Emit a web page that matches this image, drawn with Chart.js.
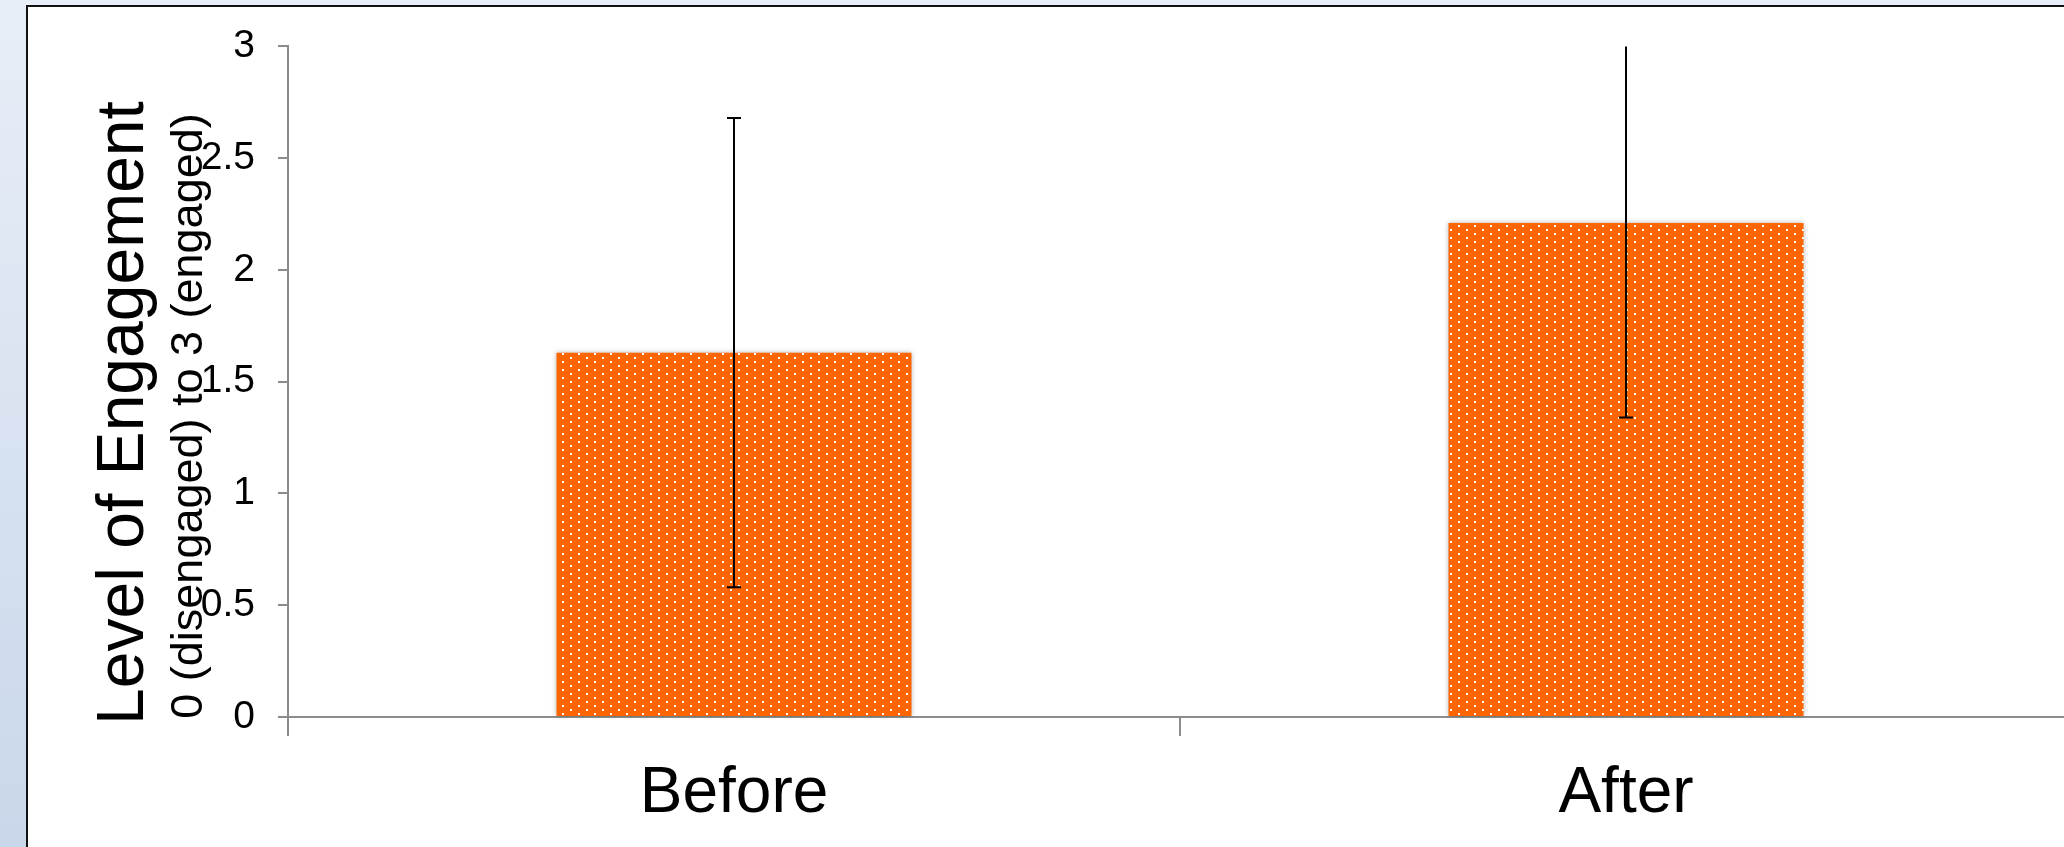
<!DOCTYPE html>
<html>
<head>
<meta charset="utf-8">
<script src="https://cdn.jsdelivr.net/npm/chart.js@4"></script>
<style>
  html, body { margin: 0; padding: 0; width: 2064px; height: 847px; overflow: hidden; }
  body { background: linear-gradient(to bottom, #e8eef7, #c9d7ea); position: relative; }
  #frame { position: absolute; left: 26px; top: 5px; width: 2100px; height: 900px;
           border-left: 2px solid #111; border-top: 2px solid #111; background: #fff; }
  #myChart { position: absolute; left: 0; top: 0; }
</style>
</head>
<body>
<div id="frame"></div>
<canvas id="myChart" width="2076" height="847"></canvas>
<script>
var categories = ['Before', 'After'];
var meanEngagement = [1.63, 2.21];   // bar heights
var errorEngagement = [1.05, 0.87];  // +/- error bar
var yTickLabels = ['0', '0.5', '1', '1.5', '2', '2.5', '3'];
var titleMain = 'Level of Engagement';
var titleSub = '0 (disengaged) to 3 (engaged)';

var fontName = "'Liberation Sans', Arial, sans-serif";

// orange with sparse white dots (Excel 5% pattern)
function dotPattern() {
  var c = document.createElement('canvas');
  c.width = 16; c.height = 8;
  var g = c.getContext('2d');
  g.fillStyle = '#ff6600';
  g.fillRect(0, 0, 16, 8);
  g.fillStyle = '#ffffff';
  g.fillRect(2, 1, 2, 2);
  g.fillRect(10, 5, 2, 2);
  return g.createPattern(c, 'repeat');
}

var barShadow = {
  id: 'barShadow',
  beforeDatasetDraw: function(chart) {
    var ctx = chart.ctx;
    ctx.save();
    ctx.shadowColor = 'rgba(0,0,0,0.3)';
    ctx.shadowBlur = 5;
  },
  afterDatasetDraw: function(chart) {
    chart.ctx.restore();
  }
};

var errorBars = {
  id: 'errorBars',
  afterDatasetsDraw: function(chart) {
    var ctx = chart.ctx, a = chart.chartArea;
    var y = chart.scales.y;
    var meta = chart.getDatasetMeta(0);
    ctx.save();
    ctx.beginPath();
    ctx.rect(a.left, a.top, a.right - a.left, a.bottom - a.top);
    ctx.clip();
    ctx.strokeStyle = '#000';
    ctx.lineWidth = 2;
    meta.data.forEach(function(bar, i) {
      var hi = y.getPixelForValue(meanEngagement[i] + errorEngagement[i]);
      var lo = y.getPixelForValue(meanEngagement[i] - errorEngagement[i]);
      var x = Math.round(bar.x);
      ctx.beginPath();
      ctx.moveTo(x, hi); ctx.lineTo(x, lo);
      ctx.moveTo(x - 7, hi); ctx.lineTo(x + 7, hi);
      ctx.moveTo(x - 7, lo); ctx.lineTo(x + 7, lo);
      ctx.stroke();
    });
    ctx.restore();
  }
};

// two line y title with different sizes
var yTitles = {
  id: 'yTitles',
  afterDraw: function(chart) {
    var ctx = chart.ctx;
    ctx.save();
    ctx.fillStyle = '#000';
    ctx.textAlign = 'center';
    ctx.textBaseline = 'alphabetic';
    ctx.translate(143, 413);
    ctx.rotate(-Math.PI / 2);
    ctx.font = '66px ' + fontName;
    ctx.fillText(titleMain, 0, 0);
    ctx.restore();
    ctx.save();
    ctx.fillStyle = '#000';
    ctx.textAlign = 'center';
    ctx.textBaseline = 'alphabetic';
    ctx.translate(202, 416);
    ctx.rotate(-Math.PI / 2);
    ctx.font = '45px ' + fontName;
    ctx.fillText(titleSub, 0, 0);
    ctx.restore();
  }
};

var ctx = document.getElementById('myChart').getContext('2d');
var myChart = new Chart(ctx, {
  type: 'bar',
  data: {
    labels: categories,
    datasets: [{
      label: 'Engagement',
      data: meanEngagement,
      backgroundColor: dotPattern(),
      borderWidth: 0,
      barPercentage: 0.398,
      categoryPercentage: 1
    }]
  },
  options: {
    responsive: false,
    devicePixelRatio: 1,
    animation: false,
    layout: { padding: { left: 0, top: 43, right: 4, bottom: 0 } },
    plugins: {
      legend: { display: false },
      tooltip: { enabled: false }
    },
    scales: {
      x: {
        afterFit: function(s) { s.height = 130; },
        grid: { offset: true, drawOnChartArea: false, drawTicks: true, tickLength: 19, color: '#8c8c8c', lineWidth: 2 },
        border: { display: true, color: '#8c8c8c', width: 2 },
        ticks: { color: '#000', padding: 20, font: { family: fontName, size: 64 } }
      },
      y: {
        min: 0,
        max: 3,
        afterFit: function(s) { s.width = 288; },
        grid: { drawOnChartArea: false, drawTicks: true, tickLength: 10, color: '#8c8c8c', lineWidth: 2 },
        border: { display: true, color: '#8c8c8c', width: 2 },
        ticks: {
          stepSize: 0.5,
          color: '#000',
          padding: 23,
          font: { family: fontName, size: 39 },
          callback: function(v, i) { return yTickLabels[i]; }
        }
      }
    }
  },
  plugins: [barShadow, errorBars, yTitles]
});
</script>
</body>
</html>
